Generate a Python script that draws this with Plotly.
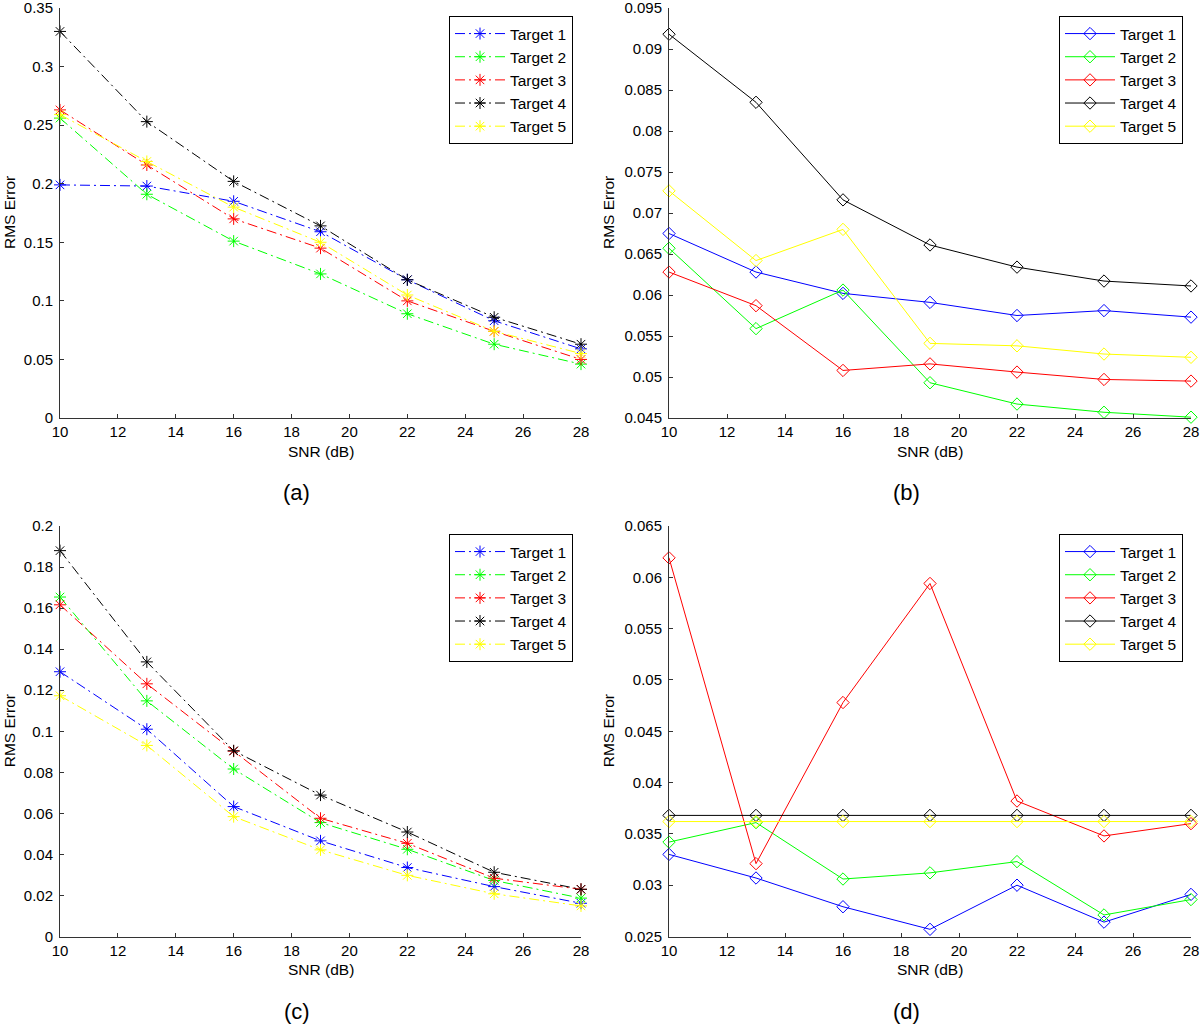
import plotly.graph_objects as go

snr = [10, 13, 16, 19, 22, 25, 28]
targets = ["Target 1", "Target 2", "Target 3", "Target 4", "Target 5"]
colors = ["#0000ff", "#00ff00", "#ff0000", "#000000", "#ffff00"]

# Panel (a)
a_t1 = [0.199, 0.198, 0.185, 0.159, 0.118, 0.083, 0.059]
a_t2 = [0.256, 0.191, 0.151, 0.123, 0.089, 0.063, 0.046]
a_t3 = [0.263, 0.216, 0.170, 0.145, 0.100, 0.074, 0.050]
a_t4 = [0.330, 0.253, 0.202, 0.164, 0.118, 0.086, 0.063]
a_t5 = [0.259, 0.219, 0.180, 0.150, 0.105, 0.074, 0.055]

# Panel (b)
b_t1 = [0.0675, 0.0628, 0.0602, 0.0591, 0.0575, 0.0581, 0.0573]
b_t2 = [0.0657, 0.0559, 0.0606, 0.0493, 0.0467, 0.0457, 0.0451]
b_t3 = [0.0628, 0.0587, 0.0508, 0.0516, 0.0506, 0.0497, 0.0495]
b_t4 = [0.0918, 0.0835, 0.0716, 0.0661, 0.0634, 0.0617, 0.0611]
b_t5 = [0.0727, 0.0642, 0.0680, 0.0541, 0.0538, 0.0528, 0.0524]

# Panel (c)
c_t1 = [0.129, 0.101, 0.0633, 0.0466, 0.0336, 0.0243, 0.0162]
c_t2 = [0.1654, 0.1148, 0.0816, 0.0555, 0.0425, 0.0273, 0.0187]
c_t3 = [0.1616, 0.1231, 0.0903, 0.0576, 0.0454, 0.0284, 0.0230]
c_t4 = [0.188, 0.1338, 0.0905, 0.0689, 0.0509, 0.0313, 0.0230]
c_t5 = [0.1173, 0.0931, 0.0584, 0.0422, 0.0298, 0.0208, 0.0149]

# Panel (d)
d_t1 = [0.0330, 0.0307, 0.0279, 0.0257, 0.0300, 0.0264, 0.0291]
d_t2 = [0.0342, 0.0361, 0.0306, 0.0312, 0.0323, 0.0271, 0.0286]
d_t3 = [0.0619, 0.0321, 0.0478, 0.0594, 0.0382, 0.0348, 0.0360]
d_t4 = [0.0368, 0.0368, 0.0368, 0.0368, 0.0368, 0.0368, 0.0368]
d_t5 = [0.0362, 0.0362, 0.0362, 0.0362, 0.0362, 0.0362, 0.0362]

panel_labels = ["(a)", "(b)", "(c)", "(d)"]
x_ticks = [10, 12, 14, 16, 18, 20, 22, 24, 26, 28]
y_ranges = [[0, 0.35], [0.045, 0.095], [0, 0.2], [0.025, 0.065]]
y_dticks = [0.05, 0.005, 0.02, 0.005]

panels = [
    [a_t1, a_t2, a_t3, a_t4, a_t5],
    [b_t1, b_t2, b_t3, b_t4, b_t5],
    [c_t1, c_t2, c_t3, c_t4, c_t5],
    [d_t1, d_t2, d_t3, d_t4, d_t5],
]

W, H = 1200, 1031
FONT = "Liberation Sans, Arial, Helvetica, sans-serif"

# page-pixel geometry of plot areas: (left, right, top, bottom)
boxes = [(60, 581, 8, 418), (669, 1191, 8, 418),
         (60, 581, 526, 936.5), (669, 1191, 526, 936.5)]


def px(xp):
    return min(1.0, max(0.0, xp / W))


def py(yp):
    return min(1.0, max(0.0, 1 - yp / H))


fig = go.Figure()
layout = dict(
    width=W, height=H,
    margin=dict(l=0, r=0, t=0, b=0, autoexpand=False),
    paper_bgcolor="white", plot_bgcolor="white",
    font=dict(family=FONT, size=15, color="black"),
    showlegend=True, hovermode=False,
)
annotations = []
for i, (series, box) in enumerate(zip(panels, boxes)):
    l, r, t, b = box
    xa = "x" if i == 0 else f"x{i+1}"
    ya = "y" if i == 0 else f"y{i+1}"
    leg = "legend" if i == 0 else f"legend{i+1}"
    dashed = i in (0, 2)
    for k, (name, col, vals) in enumerate(zip(targets, colors, series)):
        fig.add_trace(go.Scatter(
            x=snr, y=vals, name=name, mode="lines+markers",
            xaxis=xa, yaxis=ya, legend=leg, cliponaxis=False,
            line=dict(color=col, width=1,
                      dash="10px,4px,2px,4px" if dashed else "solid"),
            marker=dict(symbol="asterisk-open" if dashed else "diamond-open",
                        size=10 if dashed else 9.5,
                        color=col, line=dict(color=col, width=1)),
        ))
    axis_common = dict(
        showline=True, linecolor="#333333", linewidth=1,
        ticks="inside", ticklen=4, tickcolor="#333333", tickwidth=1,
        showgrid=False, zeroline=False, mirror=False, automargin=False,
        ticklabeloverflow="allow",
        tickfont=dict(family=FONT, size=15, color="black"),
    )
    layout["xaxis" if i == 0 else f"xaxis{i+1}"] = dict(
        domain=[px(l), px(r)], range=[10, 28], tickvals=x_ticks,
        anchor=ya, **axis_common)
    layout["yaxis" if i == 0 else f"yaxis{i+1}"] = dict(
        domain=[py(b), py(t)], range=y_ranges[i], dtick=y_dticks[i],
        tick0=y_ranges[i][0], anchor=xa, ticklabelstandoff=3, **axis_common)
    layout[leg] = dict(
        x=px(r - 8), y=py(t + 8), xanchor="right", yanchor="top",
        bordercolor="black", borderwidth=1, bgcolor="white",
        font=dict(family=FONT, size=15.5, color="black"),
        itemwidth=50, tracegroupgap=0,
    )
    cx = (l + r) / 2
    annotations.append(dict(
        text="SNR (dB)", x=px(cx), y=py(b + 33), xref="paper", yref="paper",
        showarrow=False, font=dict(family=FONT, size=15.5, color="black"),
        xanchor="center", yanchor="middle"))
    annotations.append(dict(
        text="RMS Error", x=px(l - 51 if i in (0, 2) else l - 61),
        y=py((t + b) / 2), xref="paper", yref="paper", textangle=-90,
        showarrow=False, font=dict(family=FONT, size=15.5, color="black"),
        xanchor="center", yanchor="middle"))
    annotations.append(dict(
        text=panel_labels[i], x=px(cx - 24), y=py(b + 75),
        xref="paper", yref="paper", showarrow=False,
        font=dict(family=FONT, size=22, color="black"),
        xanchor="center", yanchor="middle"))

layout["annotations"] = annotations
fig.update_layout(**layout)
fig.write_html("out.html", config={"displayModeBar": False},
               post_script="document.body.style.margin='0';")
